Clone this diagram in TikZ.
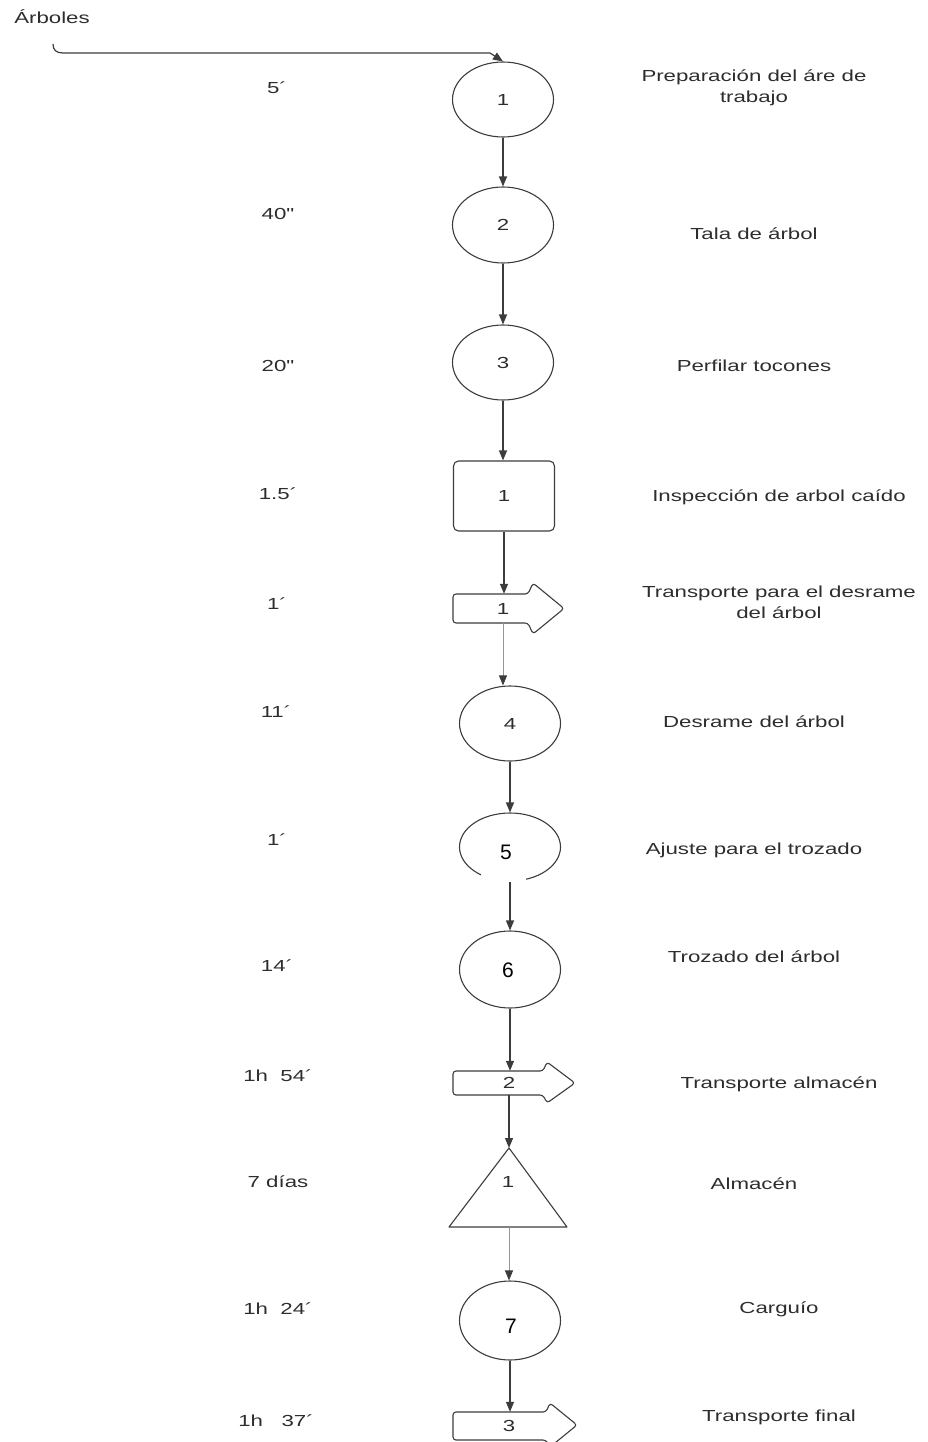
\documentclass[tikz,border=0pt]{standalone}
\usepackage{fontspec}
\newfontfamily\dfont[FakeStretch=1.39]{Liberation Sans}
\newfontfamily\nfont{Liberation Sans}
\usetikzlibrary{arrows.meta,shapes.geometric}
\definecolor{ln}{RGB}{60,60,60}
\definecolor{lnlight}{RGB}{150,150,150}
\definecolor{tx}{RGB}{45,45,45}
\begin{document}
\begin{tikzpicture}[x=1pt,y=-1pt,
  every node/.style={font=\dfont\fontsize{16}{21}\selectfont, text=tx},
  op/.style={draw=ln, line width=1.1pt, ellipse, minimum width=101pt, minimum height=75pt, inner sep=0pt},
  insp/.style={draw=ln, line width=1.1pt, rounded corners=5pt, minimum width=101pt, minimum height=70pt, inner sep=0pt},
  shp/.style={draw=ln, line width=1.1pt},
  numb/.style={font=\nfont\fontsize{21}{24}\selectfont, text=black},
  conn/.style={draw=ln, line width=1.2pt, -{Triangle[width=8pt,length=10pt]}},
  connlight/.style={draw=lnlight, line width=0.8pt, -{Triangle[width=8pt,length=10pt,color=ln]}},
  tlab/.style={align=center}
]
\useasboundingbox (0,0) rectangle (928,1442);
\clip (0,0) rectangle (928,1442);

% input
\node (arb) at (52,17) {Árboles};
\coordinate (h0) at (53,44);

% operations and symbols
\node[op] (c1) at (503,99.5) {1};
\node[op, minimum height=76pt] (c2) at (503,225) {2};
\node[op] (c3) at (503,362.5) {3};
\node[insp] (r1) at (504,496) {1};

\draw[shp, rounded corners=3pt] (528,594) -- (533,583) -- (564,608.5) -- (533,634) -- (528,623) -- (453,623) -- (453,594) -- cycle;
\node[minimum height=29pt, inner sep=0pt] (t1) at (503,608.5) {1};

\node[op] (c4) at (510,723.5) {4};

\node[op, minimum height=68pt] (c5) at (510,847) {};
\fill[white] (481,872) rectangle (526,883);
\node[numb] (n5) at (506,852) {5};

\node[op, minimum height=77pt] (c6) at (510,969.5) {};
\node[numb] (n6) at (508,970) {6};

\draw[shp, rounded corners=3pt] (543,1071) -- (547,1062) -- (575,1083) -- (547,1103) -- (543,1095) -- (453,1095) -- (453,1071) -- cycle;
\node[minimum height=24pt, inner sep=0pt] (t2) at (509,1083) {2};

\coordinate (tritop) at (509,1148);
\coordinate (tribot) at (509,1227);
\draw[shp, line join=round] (tritop) -- (567,1227) -- (449,1227) -- cycle;
\node (tri) at (508,1182) {1};

\node[op, minimum height=79pt] (c7) at (510,1320.5) {};
\node[numb] (n7) at (511,1326) {7};

\draw[shp, rounded corners=3pt] (546,1412) -- (550,1403) -- (577,1425) -- (550,1447) -- (546,1440) -- (453,1440) -- (453,1412) -- cycle;
\node[minimum height=28pt, inner sep=0pt] (t3) at (509,1426) {3};

% connectors
\draw[conn] (h0) .. controls (53,50) and (56,53) .. (63,53) -- (490,53) -- (c1.north);
\draw[conn] (c1.south) -- (c2.north);
\draw[conn] (c2.south) -- (c3.north);
\draw[conn] (c3.south) -- (c3.south |- r1.north);
\draw[conn] (r1.south) -- (r1.south |- t1.north);
\draw[connlight] (t1.south) -- (t1.south |- c4.north);
\draw[conn] (c4.south) -- (c5.north);
\draw[conn] (c5.south) -- (c6.north);
\draw[conn] (c6.south) -- (c6.south |- t2.north);
\draw[conn] (t2.south) -- (t2.south |- tritop);
\draw[connlight] (tribot) -- (tribot |- c7.north);
\draw[conn] (c7.south) -- (c7.south |- t3.north);

% times
\node (m1) at (277,88) {5´};
\node (m2) at (278,214) {40"};
\node (m3) at (278,366) {20"};
\node (m4) at (278,494) {1.5´};
\node (m5) at (277,604) {1´};
\node (m6) at (276,712) {11´};
\node (m7) at (277,840) {1´};
\node (m8) at (277,966) {14´};
\node (m9) at (278,1076) {1h\ \ 54´};
\node (m10) at (278,1182) {7 días};
\node (m11) at (278,1309) {1h\ \ 24´};
\node (m12) at (276,1421) {1h\ \ \ 37´};

% descriptions
\node[tlab] (d1) at (754,88) {Preparación del áre de\\trabajo};
\node (d2) at (754,234) {Tala de árbol};
\node (d3) at (754,366) {Perfilar tocones};
\node (d4) at (779,497) {Inspección de arbol caído};
\node[tlab] (d5) at (779,602) {Transporte para el desrame\\del árbol};
\node (d6) at (754,722) {Desrame del árbol};
\node (d7) at (754,850) {Ajuste para el trozado};
\node (d8) at (754,957) {Trozado del árbol};
\node (d9) at (779,1084) {Transporte almacén};
\node (d10) at (754,1184) {Almacén};
\node (d11) at (779,1309) {Carguío};
\node (d12) at (779,1417) {Transporte final};
\end{tikzpicture}
\end{document}
